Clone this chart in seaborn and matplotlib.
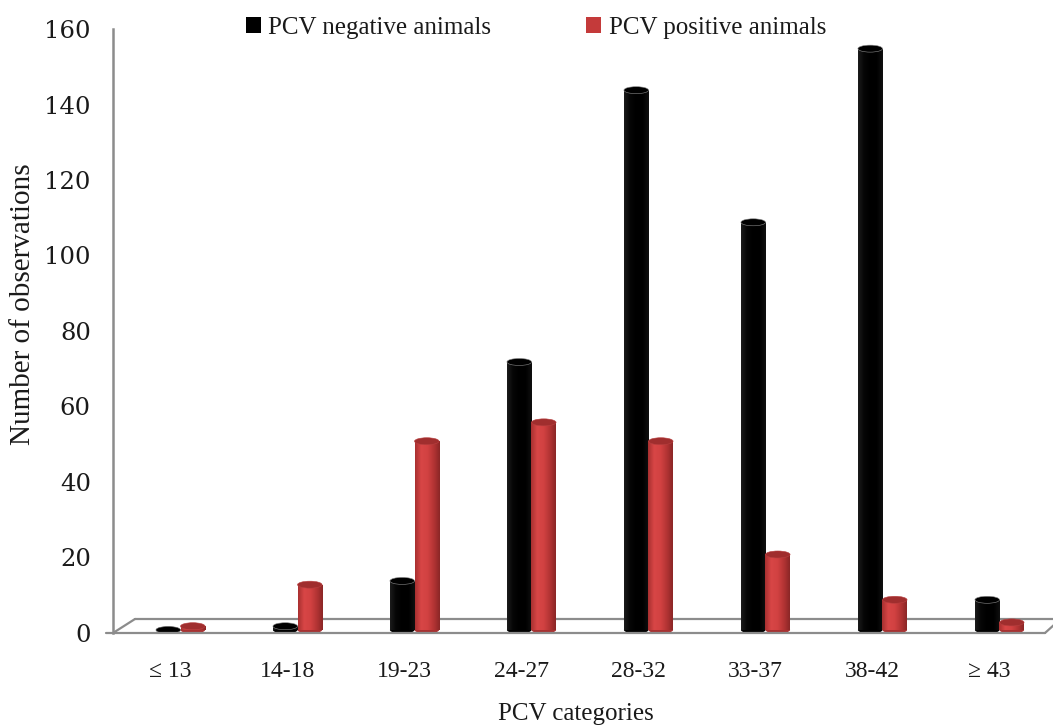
import numpy as np
import pandas as pd
import matplotlib
matplotlib.use("Agg")
import matplotlib.pyplot as plt
import matplotlib.transforms as mtransforms
from matplotlib.patches import Ellipse, Patch
from matplotlib.lines import Line2D
from matplotlib.colors import LinearSegmentedColormap
import seaborn as sns

# ---------------- data ----------------
categories = ["\u2264 13", "14-18", "19-23", "24-27", "28-32", "33-37", "38-42", "\u2265 43"]
pcv_negative = [0, 1, 13, 71, 143, 108, 154, 8]
pcv_positive = [1, 12, 50, 55, 50, 20, 8, 2]
series_names = ["PCV negative animals", "PCV positive animals"]
y_ticks = [0, 20, 40, 60, 80, 100, 120, 140, 160]
x_title = "PCV categories"
y_title = "Number of observations"

df = pd.DataFrame({
    "category": categories * 2,
    "value": pcv_negative + pcv_positive,
    "series": [series_names[0]] * len(categories) + [series_names[1]] * len(categories),
})

# ---------------- style ----------------
sns.set_theme(style="white")
plt.rcParams["font.family"] = ["Liberation Serif", "DejaVu Serif"]

W, H = 1053, 727
fig = plt.figure(figsize=(W / 100, H / 100), dpi=100)
fig.patch.set_facecolor("white")

def px(x, y):
    return (x / W, 1 - y / H)

# axes: y=0 at pixel 633, y=160 at pixel 29 ; x from 113 to 1045
ax = fig.add_axes([113 / W, (H - 633) / H, 932 / W, 604 / H])
ax.set_zorder(2)

black = "#000000"
red = "#c43a3a"
sns.barplot(data=df, x="category", y="value", hue="series",
            palette=[black, red], width=0.42, saturation=1,
            ax=ax, legend=False, linewidth=0, order=categories,
            hue_order=series_names)

XLIM = (-0.577, 7.389)
YLIM = (0, 160)
ax.set_xlim(*XLIM)
ax.set_ylim(*YLIM)

# cylinder look
red_cmap = LinearSegmentedColormap.from_list(
    "redcyl", ["#a83030", "#d84646", "#d24242", "#b43434", "#8a2626"])
blk_cmap = LinearSegmentedColormap.from_list(
    "blkcyl", ["#1c1c1c", "#050505", "#000000", "#000000", "#101010"])
grad = np.linspace(0, 1, 256).reshape(1, -1)
cap_h = 7 / 3.775  # data units

bars = [p for p in ax.patches]
for p in bars:
    fc = p.get_facecolor()
    is_red = fc[0] > 0.5
    x0 = p.get_x()
    w = p.get_width()
    h = p.get_height()
    cx = x0 + w / 2
    cmap = red_cmap if is_red else blk_cmap
    ax.add_patch(Ellipse((cx, 0.8), w, cap_h,
                         facecolor="#a83232" if is_red else "#000000",
                         edgecolor="none", zorder=2))
    if h > 0:
        p.set_y(0.8)
        p.set_height(max(h - 0.0, 0))
        im = ax.imshow(grad, extent=(x0, x0 + w, 0.8, 0.8 + h), aspect="auto",
                       cmap=cmap, zorder=3, interpolation="bilinear")
        im.set_clip_path(p)
    ax.add_patch(Ellipse((cx, 0.8 + h), w, cap_h,
                         facecolor="#a02e2e" if is_red else "#000000",
                         edgecolor="#8c8c8c" if not is_red else "#b84040",
                         linewidth=0.4, zorder=4))

ax.set_aspect("auto")
ax.set_xlim(*XLIM)
ax.set_ylim(*YLIM)

# axes styling
for s in ["top", "right", "bottom"]:
    ax.spines[s].set_visible(False)
ax.spines["left"].set_color("#8c8c8c")
ax.spines["left"].set_linewidth(1.8)
ax.set_yticks(y_ticks)
ax.set_yticklabels([str(v) for v in y_ticks], family=["DejaVu Serif"], fontsize=17.5)
ax.tick_params(axis="y", direction="out", length=6, width=1.8, color="#8c8c8c",
               pad=10, labelcolor="#1a1a1a")
ax.tick_params(axis="x", length=0, pad=20, labelsize=17, labelcolor="#1a1a1a")
offset = mtransforms.ScaledTranslation(-10 / 100, 0, fig.dpi_scale_trans)
for lab in ax.get_xticklabels():
    lab.set_transform(lab.get_transform() + offset)
ax.set_xlabel("")
ax.set_ylabel("")
ax.patch.set_alpha(0)

# floor (3D base): back edges behind bars, front edge in front
floor_color = "#8c8c8c"
back_lines = [((113, 633), (135, 619)),
              ((135, 619), (1053, 619))]
front_lines = [((106, 633), (1045, 633)),
               ((1045, 633), (1055, 624))]
for lines, z in ((back_lines, 1), (front_lines, 3)):
    for (a, b) in lines:
        p1, p2 = px(*a), px(*b)
        fig.add_artist(Line2D([p1[0], p2[0]], [p1[1], p2[1]], transform=fig.transFigure,
                              color=floor_color, linewidth=1.6, zorder=z))

# titles
fig.text(*px(576, 714), x_title, ha="center", va="center", fontsize=18, color="#1a1a1a")
fig.text(*px(23, 304), y_title, ha="center", va="center", rotation=90,
         fontsize=21, color="#1a1a1a")

# legend
handles = [Patch(facecolor=black, edgecolor="none"),
           Patch(facecolor=red, edgecolor="none")]
fig.legend(handles, series_names, loc="center", bbox_to_anchor=px(536, 28),
           ncol=2, frameon=False, fontsize=18, handlelength=0.6, handleheight=0.6,
           handletextpad=0.3, columnspacing=3.8, labelcolor="#1a1a1a")

fig.savefig("out.png", dpi=100)
